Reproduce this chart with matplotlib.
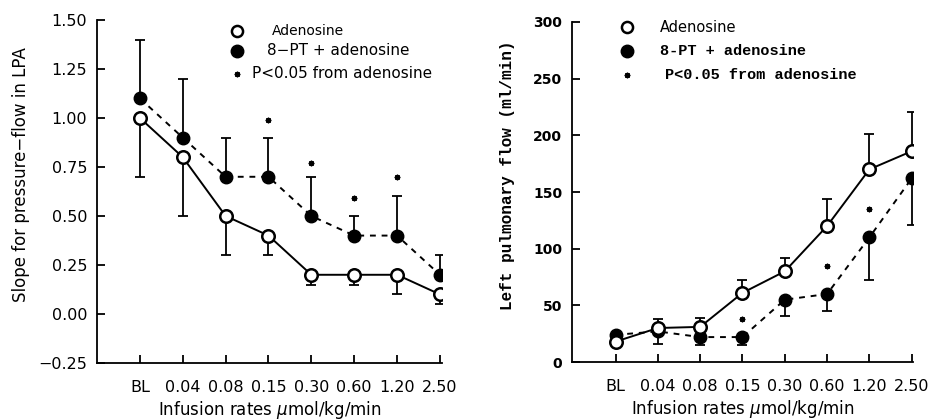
import matplotlib
matplotlib.use("Agg")
import matplotlib.pyplot as plt
import numpy as np


RATES = ["BL", "0.04", "0.08", "0.15", "0.30", "0.60", "1.20", "2.50"]

# left panel: slope for pressure-flow in LPA
slope_ado = [1.00, 0.80, 0.50, 0.40, 0.20, 0.20, 0.20, 0.10]
slope_ado_err_down = [0.30, 0.30, 0.20, 0.10, 0.05, 0.05, 0.10, 0.05]
slope_pt = [1.10, 0.90, 0.70, 0.70, 0.50, 0.40, 0.40, 0.20]
slope_pt_err_up = [0.30, 0.30, 0.20, 0.20, 0.20, 0.10, 0.20, 0.10]
slope_sig_idx = [3, 4, 5, 6]
slope_sig_y = [0.99, 0.77, 0.59, 0.70]

# right panel: left pulmonary flow (ml/min)
flow_ado = [18, 30, 31, 61, 80, 120, 170, 186]
flow_ado_err_up = [0, 8, 8, 11, 12, 24, 31, 35]
flow_pt = [24, 27, 22, 22, 55, 60, 110, 162]
flow_pt_err_down = [0, 11, 7, 7, 14, 15, 38, 41]
flow_sig_idx = [3, 5, 6]
flow_sig_y = [38, 85, 135]

MONO = "Liberation Mono"


def draw_series(ax, x, ado, ado_err, pt, pt_err, ado_down=True):
    zero = np.zeros(len(x))
    if ado_down:
        ado_yerr = [ado_err, zero]
        pt_yerr = [zero, pt_err]
    else:
        ado_yerr = [zero, ado_err]
        pt_yerr = [pt_err, zero]
    ax.errorbar(x, pt, yerr=pt_yerr, fmt="none", ecolor="black",
                elinewidth=1.3, capsize=3.5, capthick=1.3, zorder=2)
    ax.errorbar(x, ado, yerr=ado_yerr, fmt="none", ecolor="black",
                elinewidth=1.3, capsize=3.5, capthick=1.3, zorder=2)
    ax.plot(x, pt, color="black", linestyle=(0, (3, 3)), linewidth=1.4,
            marker="o", markersize=9, markerfacecolor="black",
            markeredgecolor="black", zorder=3)
    ax.plot(x, ado, color="black", linestyle="-", linewidth=1.4,
            marker="o", markersize=9, markerfacecolor="white",
            markeredgecolor="black", markeredgewidth=1.8, zorder=4)


def style_axes(ax, xlim):
    ax.spines["top"].set_visible(False)
    ax.spines["right"].set_visible(False)
    ax.spines["left"].set_linewidth(1.3)
    ax.spines["bottom"].set_linewidth(1.3)
    ax.set_xlim(*xlim)
    ax.set_xticks(range(len(RATES)))
    ax.set_xticklabels(RATES, fontsize=11.5)
    ax.tick_params(axis="x", direction="in", length=6, width=1.3, pad=12)
    ax.tick_params(axis="y", direction="in", length=6, width=1.3, pad=7)
    ax.set_xlabel("Infusion rates $\\mu$mol/kg/min", fontsize=12, labelpad=3)


def legend_left(ax):
    tr = ax.transAxes
    ax.plot([0.406], [0.968], "o", ms=8, mfc="white", mec="black", mew=1.8,
            transform=tr, clip_on=False)
    ax.plot([0.406], [0.910], "o", ms=9, mfc="black", mec="black",
            transform=tr, clip_on=False)
    ax.plot([0.406], [0.843], marker=(8, 2, 0), ms=4, color="black",
            linestyle="none", transform=tr, clip_on=False)
    ax.text(0.507, 0.968, "Adenosine", fontsize=10, va="center", transform=tr)
    ax.text(0.493, 0.910, "8\u2212PT + adenosine", fontsize=11, va="center",
            transform=tr)
    ax.text(0.449, 0.843, "P<0.05 from adenosine", fontsize=11, va="center",
            transform=tr)


def legend_right(ax):
    tr = ax.transAxes
    ax.plot([0.161], [0.985], "o", ms=8, mfc="white", mec="black", mew=1.8,
            transform=tr, clip_on=False)
    ax.plot([0.161], [0.915], "o", ms=9, mfc="black", mec="black",
            transform=tr, clip_on=False)
    ax.plot([0.161], [0.844], marker=(8, 2, 0), ms=4, color="black",
            linestyle="none", transform=tr, clip_on=False)
    ax.text(0.258, 0.985, "Adenosine", fontsize=10.5, va="center", transform=tr)
    ax.text(0.258, 0.915, "8-PT + adenosine", fontsize=11, va="center",
            family=MONO, fontweight="bold", transform=tr)
    ax.text(0.273, 0.844, "P<0.05 from adenosine", fontsize=11, va="center",
            family=MONO, fontweight="bold", transform=tr)


def main() -> None:
    fig = plt.figure(figsize=(9.34, 4.19), dpi=100)
    ax1 = fig.add_axes([0.1039, 0.1337, 0.3694, 0.8186])
    ax2 = fig.add_axes([0.6124, 0.1360, 0.3651, 0.8115])

    x = np.arange(len(RATES))

    # left panel
    draw_series(ax1, x, slope_ado, slope_ado_err_down, slope_pt,
                slope_pt_err_up, ado_down=True)
    ax1.plot(x[slope_sig_idx], slope_sig_y, marker=(8, 2, 0), ms=4,
             color="black", linestyle="none")
    style_axes(ax1, (-1.0, 7.05))
    ax1.set_ylim(-0.25, 1.50)
    ax1.set_yticks(np.arange(-0.25, 1.51, 0.25))
    ax1.set_yticklabels([f"{v:.2f}".replace("-", "\u2212")
                         for v in np.arange(-0.25, 1.51, 0.25)], fontsize=11.5)
    ax1.set_ylabel("Slope for pressure\u2212flow in LPA", fontsize=12)
    ax1.yaxis.set_label_coords(-0.195, 0.55)
    legend_left(ax1)

    # right panel
    draw_series(ax2, x, flow_ado, flow_ado_err_up, flow_pt,
                flow_pt_err_down, ado_down=False)
    ax2.plot(x[flow_sig_idx], flow_sig_y, marker=(8, 2, 0), ms=4,
             color="black", linestyle="none")
    style_axes(ax2, (-1.03, 7.03))
    ax2.set_ylim(0, 300)
    ax2.set_yticks(range(0, 301, 50))
    ax2.set_yticklabels([str(v) for v in range(0, 301, 50)], fontsize=10,
                        fontweight="bold")
    ax2.set_ylabel("Left pulmonary flow (ml/min)", fontsize=11.5,
                   family=MONO, fontweight="bold")
    ax2.yaxis.set_label_coords(-0.167, 0.55)
    legend_right(ax2)

    fig.savefig("out.png", dpi=100)
    plt.close(fig)


if __name__ == "__main__":
    main()
